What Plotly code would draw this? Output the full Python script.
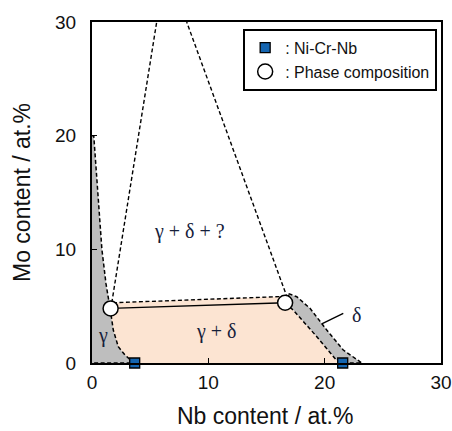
import plotly.graph_objects as go

# ---- data (at.%) ----
# gamma single-phase region (grey)
gamma_x = [0, 0.15, 0.5, 0.85, 1.2, 1.5, 1.6, 1.83, 2.26, 2.84, 3.27, 3.6, 0]
gamma_y = [20, 20, 15, 10, 7, 5.3, 4.5, 2.9, 1.43, 0.7, 0.26, 0, 0]

# gamma + delta two-phase region (peach)
gd_x = [1.8, 16.4, 16.9, 17.3, 19.2, 20.6, 21.0, 21.5, 3.6, 3.27, 2.84, 2.26, 1.83, 1.6, 1.8]
gd_y = [5.3, 5.85, 5.0, 4.66, 2.46, 0.75, 0.26, 0, 0, 0.26, 0.7, 1.43, 2.9, 4.5, 5.3]

# delta single-phase band (grey)
delta_x = [16.9, 17.6, 18.74, 20.18, 21.6, 22.76, 23.2, 21.5, 21.0, 20.6, 19.2, 17.3, 16.9, 16.9]
delta_y = [6.1, 5.83, 4.81, 2.9, 1.14, 0.26, 0, 0, 0.26, 0.75, 2.46, 4.66, 5.0, 6.1]

# upper boundary of the gamma+delta field (dashed)
top_x = [1.8, 16.4]
top_y = [5.3, 5.85]

# three-phase triangle legs (dashed)
leg1_x = [1.7, 5.56]
leg1_y = [5.3, 30]
leg2_x = [16.8, 8.14]
leg2_y = [5.7, 30]

# measured phase compositions (tie line)
phase_x = [1.6, 16.6]
phase_y = [4.8, 5.3]

# Ni-Cr-Nb alloys
alloy_x = [3.67, 21.55]
alloy_y = [0, 0]

# delta label pointer
ptr_x = [19.75, 21.6]
ptr_y = [3.45, 4.37]

labels = ["γ + δ + ?", "γ + δ", "γ", "δ"]
label_x = [8.4, 10.7, 0.95, 22.7]
label_y = [11.6, 2.75, 2.45, 4.2]

x_ticks = [0, 10, 20, 30]
y_ticks = [0, 10, 20, 30]

GREY = "#bebebe"
PEACH = "#fce4d2"
DASH = "4px,2.5px"

fig = go.Figure()

fig.add_trace(go.Scatter(x=gd_x, y=gd_y, fill="toself", fillcolor=PEACH,
                         mode="lines", line=dict(width=0), showlegend=False,
                         hoverinfo="skip"))
fig.add_trace(go.Scatter(x=gamma_x, y=gamma_y, fill="toself", fillcolor=GREY,
                         mode="lines", line=dict(color="black", width=1.5, dash=DASH),
                         showlegend=False, hoverinfo="skip"))
fig.add_trace(go.Scatter(x=delta_x, y=delta_y, fill="toself", fillcolor=GREY,
                         mode="lines", line=dict(color="black", width=1.5, dash=DASH),
                         showlegend=False, hoverinfo="skip"))
for xs, ys in [(top_x, top_y), (leg1_x, leg1_y), (leg2_x, leg2_y)]:
    fig.add_trace(go.Scatter(x=xs, y=ys, mode="lines",
                             line=dict(color="black", width=1.4, dash=DASH),
                             showlegend=False, hoverinfo="skip"))
fig.add_trace(go.Scatter(x=ptr_x, y=ptr_y, mode="lines",
                         line=dict(color="black", width=1.4),
                         showlegend=False, hoverinfo="skip"))
fig.add_trace(go.Scatter(x=phase_x, y=phase_y, mode="lines",
                         line=dict(color="black", width=1.3),
                         showlegend=False, hoverinfo="skip"))

fig.add_trace(go.Scatter(x=alloy_x, y=alloy_y, mode="markers", name=": Ni-Cr-Nb",
                         marker=dict(symbol="square", size=10, color="#1565b0",
                                     line=dict(color="black", width=1.3)),
                         cliponaxis=False))
fig.add_trace(go.Scatter(x=phase_x, y=phase_y, mode="markers", name=": Phase composition",
                         marker=dict(symbol="circle", size=15, color="white",
                                     line=dict(color="black", width=1.5)),
                         cliponaxis=False))

for t, x, y in zip(labels, label_x, label_y):
    fig.add_annotation(x=x, y=y, text=t, showarrow=False,
                       font=dict(family="Liberation Serif, Times New Roman, serif",
                                 size=20, color="#15203a"))

# x-axis title as a paper annotation so it can sit low in the margin
fig.add_annotation(x=0.495, y=0, xref="paper", yref="paper", yanchor="bottom",
                   yshift=-67, text="Nb content / at.%", showarrow=False,
                   borderpad=0, font=dict(size=23, color="#111"))

axis_common = dict(range=[0, 30], showgrid=False, zeroline=False, automargin=False,
                   showline=True, linecolor="black", linewidth=2, mirror=True,
                   ticks="inside", ticklen=5, tickwidth=1.2, tickcolor="black",
                   tickfont=dict(size=19, color="#111"))

fig.update_xaxes(**axis_common, tickvals=x_ticks, ticklabelstandoff=1,
                 ticktext=[str(v) for v in x_ticks])
fig.update_yaxes(**axis_common, tickvals=y_ticks, ticklabelstandoff=10,
                 ticktext=[str(v) for v in y_ticks],
                 title=dict(text="Mo content / at.%", font=dict(size=23, color="#111"),
                            standoff=18))

fig.update_layout(
    width=452, height=431,
    margin=dict(l=92, r=11, t=22, b=68),
    paper_bgcolor="white", plot_bgcolor="white",
    font=dict(family="Liberation Sans, Arial, sans-serif", color="#111"),
    showlegend=True,
    legend=dict(x=0.989, y=0.98, xanchor="right", yanchor="top",
                bgcolor="white", bordercolor="black", borderwidth=2,
                font=dict(size=16, color="#111"), itemwidth=30,
                tracegroupgap=0),
)

fig.write_html("out.html")
